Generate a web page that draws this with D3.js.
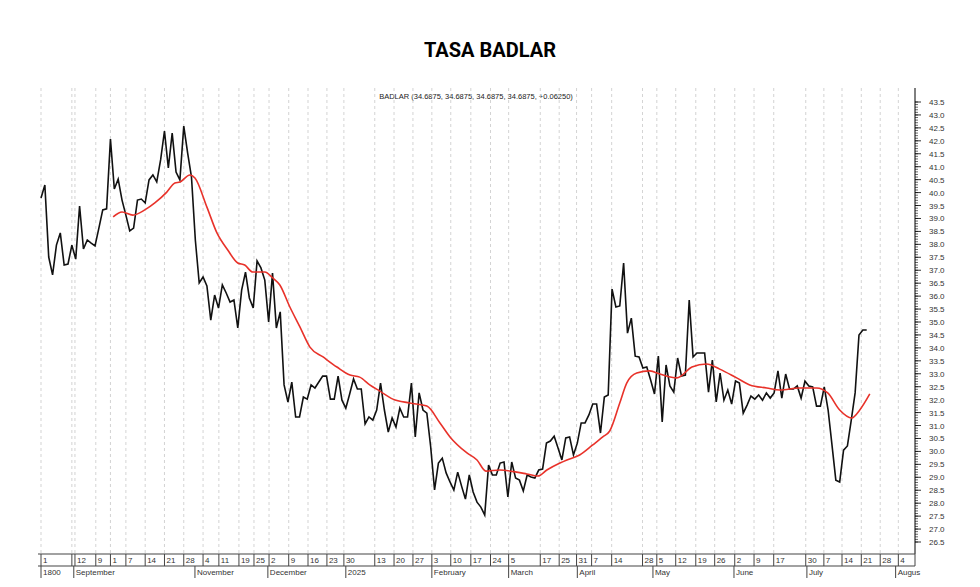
<!DOCTYPE html>
<html><head><meta charset="utf-8">
<script src="https://cdn.jsdelivr.net/npm/d3@7"></script>
<style>body{margin:0;background:#fff}svg{font-family:"Liberation Sans",Arial,sans-serif}</style>
</head><body><svg id="c" width="980" height="587"></svg>
<script>
const badlar=[39.79,40.29,37.51,36.82,37.97,38.44,37.20,37.24,37.97,37.43,39.48,37.82,38.17,38.05,37.94,38.63,39.33,39.37,42.07,40.14,40.52,39.71,39.13,38.52,38.63,39.71,39.75,39.60,40.49,40.68,40.41,41.26,42.38,40.95,42.30,40.79,40.49,42.57,41.53,40.60,38.17,36.51,36.74,36.39,35.07,36.04,35.54,36.43,36.12,35.77,35.85,34.77,36.23,36.93,35.93,35.54,37.36,37.09,36.62,35.00,36.89,34.77,35.39,32.57,31.91,32.68,31.33,31.33,32.10,32.02,32.57,32.45,32.68,32.91,32.91,32.02,32.02,32.91,31.98,31.67,32.22,32.80,32.41,32.41,31.06,31.33,31.21,31.60,32.64,31.60,30.75,31.29,30.94,31.67,31.33,31.33,32.64,30.56,32.26,31.60,31.48,30.17,28.51,29.55,29.74,29.17,28.82,28.51,29.20,28.66,28.16,29.09,28.43,28.04,27.85,27.54,29.47,29.09,29.09,29.55,29.59,28.24,29.59,28.97,28.89,28.47,29.09,29.01,28.97,29.28,29.32,30.32,30.40,30.59,30.13,29.67,30.52,30.56,29.86,30.32,31.10,31.10,31.41,31.83,31.83,30.71,32.10,32.18,36.27,35.58,35.62,37.28,34.57,35.15,33.68,33.65,33.22,33.26,32.76,32.22,33.68,31.14,33.34,32.53,32.29,33.61,32.91,32.95,35.85,33.65,33.80,33.80,33.80,32.29,33.53,31.91,33.03,31.98,32.37,31.83,32.72,32.64,31.48,31.79,32.14,32.02,32.18,31.98,32.26,32.06,32.26,33.11,32.06,32.99,32.41,32.41,32.53,32.06,32.72,32.53,32.49,31.75,31.75,32.49,31.60,30.25,28.89,28.82,30.05,30.21,31.21,32.26,34.50,34.69,34.69];
const maIdx=[18.7,21.0,23.8,26.9,29.5,32.6,34.7,36.0,38.6,39.9,43.0,45.6,48.4,51.0,52.8,54.9,58.0,60.1,61.9,64.5,67.1,69.7,73.1,76.7,80.1,82.6,85.2,87.8,91.2,95.6,100.0,103.4,106.0,110.4,113.0,115.3,118.9,123.3,125.9,128.8,131.1,134.5,136.3,139.6,143.0,145.6,147.4,150.0,151.8,154.4,157.8,160.4,164.8,168.7,172.5,175.9,180.3,183.7,188.1,191.5,196.6,201.0,203.9,207.0,210.1,212.2,214.8];
const maVal=[39.06,39.25,39.13,39.33,39.60,40.02,40.37,40.41,40.68,40.56,39.44,38.44,37.78,37.28,37.20,36.93,36.93,36.70,36.43,35.58,34.81,34.03,33.65,33.26,32.95,32.87,32.57,32.33,32.02,31.87,31.75,31.10,30.56,29.94,29.67,29.24,29.28,29.20,29.13,29.05,29.28,29.55,29.67,29.86,30.25,30.56,30.79,31.87,32.64,33.03,33.11,32.99,32.84,33.26,33.38,33.18,32.84,32.57,32.45,32.37,32.45,32.45,32.26,31.60,31.29,31.60,32.22];
const dayLabels=["1","","12","9","1","7","14","21","28","4","11","19","25","2","9","16","23","30","13","20","27","3","10","17","24","5","17","25","31","7","14","28","5","12","19","26","2","9","17","30","7","14","21","28","4"];
const dayIdx=[0,8,8.8,14.2,18,22,27,32,37,42,46.1,51.3,55.2,59.1,64.2,69.2,74.1,78.5,86.5,91.5,96.4,101.3,106.2,111.4,116.5,121.2,129.4,134.3,138.8,142.7,147.9,155.9,159.6,164.5,169.7,174.6,179.8,184.8,189.9,198.2,202.9,207.6,212.6,217.5,222.2];
const monthLabels=["1800","September","November","December","2025","February","March","April","May","June","July","Augus"];
const monthIdx=[0,8.5,39.9,58.8,79,101.3,121.2,139,158.6,179.6,198.5,221.5];
const yTicks=d3.range(265,436,5).map(v=>v/10);

const svg=d3.select("#c");
const x=d3.scaleLinear().domain([0,226]).range([41,913]);
const y=d3.scaleLinear().domain([26.5,43.5]).range([542,102]);
const plotTop=88, axTop=554, axMid=566, axBot=578, right=915;

svg.append("text").attr("x",490).attr("y",57).attr("text-anchor","middle")
  .attr("font-size",20).attr("font-weight","bold").attr("font-family","Roboto,'Liberation Sans',sans-serif").text("TASA BADLAR");
svg.append("text").attr("x",476).attr("y",99).attr("text-anchor","middle").attr("font-size",7.5).attr("fill","#222")
  .text("BADLAR (34.6875, 34.6875, 34.6875, 34.6875, +0.06250)");

// gridlines
svg.append("g").selectAll("line").data(dayIdx).join("line")
  .attr("x1",d=>x(d)).attr("x2",d=>x(d)).attr("y1",plotTop).attr("y2",axTop)
  .attr("stroke","#c8c8c8").attr("stroke-dasharray","3,3").attr("stroke-width",0.8);

// right axis
const ra=svg.append("g").attr("transform",`translate(${right},0)`);
ra.append("line").attr("y1",plotTop).attr("y2",axTop).attr("stroke","#000");
ra.selectAll(".mn").data(d3.range(265,436).map(v=>v/10)).join("line")
  .attr("x1",0).attr("x2",3).attr("y1",d=>y(d)).attr("y2",d=>y(d)).attr("stroke","#000").attr("stroke-width",0.6);
ra.selectAll(".mj").data(yTicks).join("line")
  .attr("x1",0).attr("x2",6).attr("y1",d=>y(d)).attr("y2",d=>y(d)).attr("stroke","#000").attr("stroke-width",0.8);
ra.selectAll("text").data(yTicks).join("text").attr("x",14).attr("y",d=>y(d)+3)
  .attr("font-size",8).attr("fill","#333").text(d=>d.toFixed(1));

// bottom axis
const ba=svg.append("g");
[axTop,axMid].forEach(yy=>ba.append("line").attr("x1",38).attr("x2",right).attr("y1",yy).attr("y2",yy).attr("stroke","#444").attr("stroke-width",1.2));
ba.append("line").attr("x1",right).attr("x2",right).attr("y1",axTop).attr("y2",axMid).attr("stroke","#444");
ba.selectAll(".dt").data(dayIdx).join("line").attr("x1",d=>x(d)).attr("x2",d=>x(d)).attr("y1",axTop).attr("y2",axMid).attr("stroke","#444");
ba.selectAll(".dl").data(dayLabels).join("text").attr("x",(d,i)=>x(dayIdx[i])+2).attr("y",563)
  .attr("font-size",8).attr("fill","#333").text(d=>d);
ba.selectAll(".mt").data(monthIdx).join("line").attr("x1",d=>x(d)).attr("x2",d=>x(d)).attr("y1",axMid).attr("y2",axBot).attr("stroke","#444");
ba.selectAll(".ml").data(monthLabels).join("text").attr("x",(d,i)=>x(monthIdx[i])+2).attr("y",575)
  .attr("font-size",8).attr("fill","#333").text(d=>d);

// lines
svg.append("path").datum(badlar).attr("fill","none").attr("stroke","#111").attr("stroke-width",1.6)
  .attr("d",d3.line().x((d,i)=>x(i)).y(d=>y(d)));
svg.append("path").datum(maVal).attr("fill","none").attr("stroke","#e8322a").attr("stroke-width",1.6)
  .attr("d",d3.line().curve(d3.curveMonotoneX).x((d,i)=>x(maIdx[i])).y(d=>y(d)));
</script></body></html>
